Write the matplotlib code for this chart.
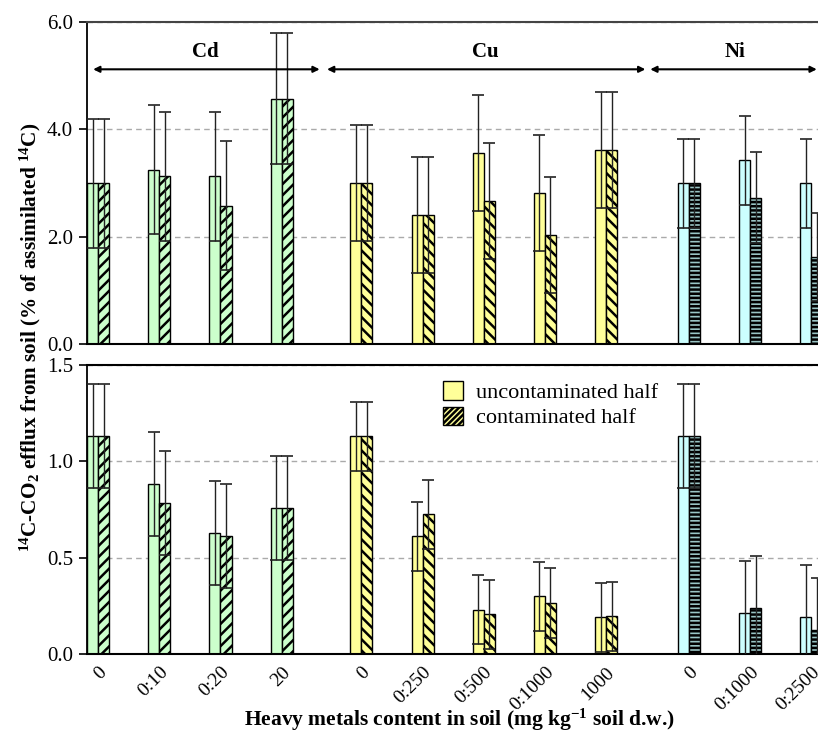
import matplotlib
matplotlib.use('Agg')
import matplotlib.pyplot as plt
from matplotlib.patches import Patch
import numpy as np

plt.rcParams['font.family'] = ['Liberation Serif', 'DejaVu Serif']
plt.rcParams['mathtext.default'] = 'regular'
plt.rcParams['hatch.linewidth'] = 1.8

# categories
metals = ['Cd', 'Cu', 'Ni']
n_per_metal = [4, 5, 3]
tick_labels = ['0', '0:10', '0:20', '20',
               '0', '0:250', '0:500', '0:1000', '1000',
               '0', '0:1000', '0:2500']

# top panel: % of assimilated 14C
top_unc = [3.00, 3.25, 3.13, 4.57, 3.00, 2.40, 3.56, 2.82, 3.61, 3.00, 3.43, 3.00]
top_con = [3.00, 3.13, 2.58, 4.57, 3.00, 2.40, 2.66, 2.03, 3.61, 3.00, 2.73, 1.63]
top_unc_err = [1.20, 1.20, 1.20, 1.22, 1.08, 1.08, 1.08, 1.08, 1.08, 0.83, 0.83, 0.83]
top_con_err = [1.20, 1.20, 1.20, 1.22, 1.08, 1.08, 1.08, 1.08, 1.08, 0.83, 0.85, 0.82]

# bottom panel
bot_unc = [1.13, 0.88, 0.63, 0.76, 1.13, 0.61, 0.23, 0.30, 0.19, 1.13, 0.215, 0.19]
bot_con = [1.13, 0.785, 0.61, 0.76, 1.13, 0.725, 0.205, 0.265, 0.195, 1.13, 0.24, 0.125]
bot_unc_err = [0.27, 0.27, 0.27, 0.27, 0.18, 0.18, 0.18, 0.18, 0.18, 0.27, 0.27, 0.27]
bot_con_err = [0.27, 0.27, 0.27, 0.27, 0.18, 0.18, 0.18, 0.18, 0.18, 0.27, 0.27, 0.27]

# styles per metal
face = {'Cd': '#ccffcc', 'Cu': '#ffff99', 'Ni': '#ccffff'}
con_face = {'Cd': '#ccffcc', 'Cu': '#ffff99', 'Ni': '#99c4c4'}
con_hatch = {'Cd': '///', 'Cu': '\\\\\\', 'Ni': '----'}

# x positions: groups separated by an extra gap
group_gap = [0.0, 0.3, 0.65]
xs = []
metal_of = []
start = 0.0
for g, n in enumerate(n_per_metal):
    for i in range(n):
        xs.append(start + group_gap[g] + i)
        metal_of.append(metals[g])
    start += n
xs = np.array(xs)

w = 0.18

fig = plt.figure(figsize=(8.18, 7.47), dpi=100)
ax_top = fig.add_axes([0.1064, 0.539, 0.8936, 0.4315])
ax_bot = fig.add_axes([0.1064, 0.1245, 0.8936, 0.3869])


def draw_panel(ax, unc, con, unc_err, con_err):
    for x, m, u, c in zip(xs, metal_of, unc, con):
        ax.bar(x - w, u, width=w, align='edge', color=face[m], edgecolor='black',
               linewidth=1.0, zorder=2)
        ax.bar(x, c, width=w, align='edge', color=con_face[m], edgecolor='black',
               linewidth=1.0, hatch=con_hatch[m], zorder=2)
    ax.errorbar(xs - w / 2, unc, yerr=unc_err, fmt='none', ecolor='#222222',
                elinewidth=1.0, capsize=4.5, capthick=1.2, zorder=3)
    ax.errorbar(xs + w / 2, con, yerr=con_err, fmt='none', ecolor='#222222',
                elinewidth=1.0, capsize=4.5, capthick=1.2, zorder=3)
    ax.set_xlim(-w, 11.76)
    ax.yaxis.grid(True, color='#aaaaaa', linestyle=(0, (4, 3)), linewidth=1.0, zorder=0)
    ax.set_axisbelow(True)
    ax.spines['right'].set_visible(False)
    ax.spines['left'].set_linewidth(1.3)
    ax.spines['bottom'].set_linewidth(1.5)
    ax.tick_params(axis='y', direction='out', length=6, width=1.2, labelsize=15, pad=4)
    ax.tick_params(axis='x', length=0)


draw_panel(ax_top, top_unc, top_con, top_unc_err, top_con_err)
ax_top.set_ylim(0, 6)
ax_top.set_yticks([0, 2, 4, 6])
ax_top.set_yticklabels(['0.0', '2.0', '4.0', '6.0'])
ax_top.set_xticks([])
ax_top.spines['top'].set_color('#444444')
ax_top.spines['top'].set_linewidth(1.5)

# metal range arrows
arrow_spans = [(-0.08, 3.62), (3.74, 8.94), (9.02, 11.74)]
label_x = [1.76, 6.33, 10.41]
for m, (x0, x1), lx in zip(metals, arrow_spans, label_x):
    ax_top.annotate('', xy=(x1, 5.12), xytext=(x0, 5.12),
                    arrowprops=dict(arrowstyle='<|-|>', color='black', lw=1.5,
                                    mutation_scale=9, shrinkA=0, shrinkB=0),
                    annotation_clip=False)
    ax_top.text(lx, 5.45, m, ha='center', va='center', fontsize=15, fontweight='bold')

draw_panel(ax_bot, bot_unc, bot_con, bot_unc_err, bot_con_err)
ax_bot.set_ylim(0, 1.5)
ax_bot.set_yticks([0, 0.5, 1.0, 1.5])
ax_bot.set_yticklabels(['0.0', '0.5', '1.0', '1.5'])
ax_bot.spines['top'].set_linewidth(1.5)
ax_bot.set_xticks(xs)
ax_bot.set_xticklabels(tick_labels, rotation=45, ha='right', rotation_mode='anchor',
                       fontsize=14)
ax_bot.tick_params(axis='x', pad=7)

legend_handles = [Patch(facecolor='#ffff99', edgecolor='black', linewidth=1.0),
                  Patch(facecolor='#ffff99', edgecolor='black', linewidth=1.0, hatch='//////')]
ax_bot.legend(legend_handles, ['uncontaminated half', 'contaminated half'],
              loc='upper left', bbox_to_anchor=(0.462, 1.005), frameon=False, fontsize=16,
              handlelength=0.9, handleheight=0.9, handletextpad=0.6, labelspacing=0.15,
              borderpad=0.3)

fig.text(0.562, 0.036, 'Heavy metals content in soil (mg kg$^{-1}$ soil d.w.)',
         ha='center', va='center', fontsize=15.5, fontweight='bold')
fig.text(0.037, 0.548, '$^{14}$C-CO$_2$ efflux from soil (% of assimilated $^{14}$C)',
         ha='center', va='center', rotation=90, fontsize=15.3, fontweight='bold')

fig.savefig('out.png', dpi=100)
